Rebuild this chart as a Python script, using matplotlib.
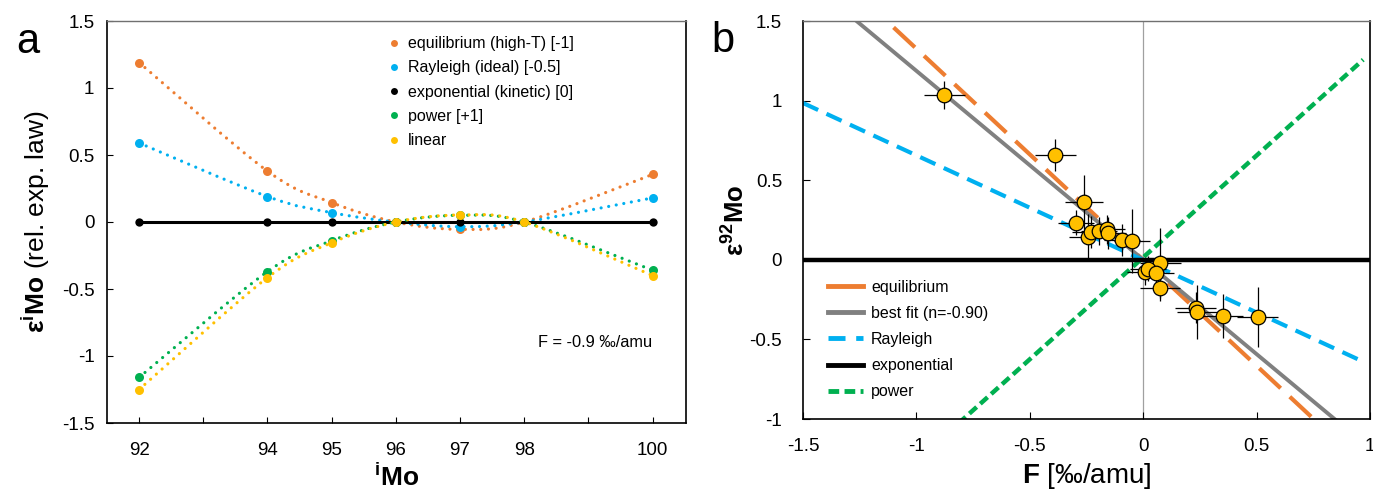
import numpy as np
import matplotlib
matplotlib.use("Agg")
import matplotlib.pyplot as plt
from matplotlib.path import Path
from matplotlib.patches import PathPatch
from matplotlib.lines import Line2D

plt.rcParams['font.family'] = ['Liberation Sans', 'DejaVu Sans']
plt.rcParams['mathtext.fontset'] = 'custom'
plt.rcParams['mathtext.rm'] = 'Liberation Sans'
plt.rcParams['mathtext.bf'] = 'Liberation Sans:bold'
plt.rcParams['mathtext.it'] = 'Liberation Sans:italic'

# ---------------- Panel a data ----------------
isotopes = [92, 94, 95, 96, 97, 98, 100]
eq_vals = [1.19, 0.38, 0.145, 0.0, -0.055, 0.0, 0.355]
ray_vals = [0.59, 0.19, 0.07, 0.0, -0.035, 0.0, 0.18]
exp_vals = [0.0, 0.0, 0.0, 0.0, 0.0, 0.0, 0.0]
pow_vals = [-1.16, -0.37, -0.14, 0.0, 0.05, 0.0, -0.36]
lin_vals = [-1.25, -0.415, -0.155, 0.0, 0.052, 0.0, -0.40]
law_labels_a = ["equilibrium (high-T) [-1]", "Rayleigh (ideal) [-0.5]",
                "exponential (kinetic) [0]", "power [+1]", "linear"]

# ---------------- Panel b data ----------------
F_vals = [-0.877, -0.387, -0.262, -0.295, -0.245, -0.232, -0.195, -0.160, -0.155,
          -0.095, -0.050, 0.075, 0.010, 0.020, 0.055, 0.074, 0.232, 0.238, 0.350, 0.505]
eps92_vals = [1.035, 0.660, 0.360, 0.233, 0.145, 0.172, 0.180, 0.192, 0.170,
              0.125, 0.118, -0.020, -0.078, -0.055, -0.082, -0.180, -0.300, -0.330, -0.352, -0.358]
F_err = [0.09, 0.09, 0.085, 0.08, 0.08, 0.08, 0.08, 0.08, 0.08,
         0.08, 0.08, 0.09, 0.08, 0.08, 0.08, 0.09, 0.09, 0.09, 0.09, 0.09]
eps_err = [0.085, 0.10, 0.17, 0.08, 0.14, 0.10, 0.09, 0.09, 0.10,
           0.10, 0.20, 0.22, 0.08, 0.08, 0.08, 0.08, 0.10, 0.17, 0.14, 0.19]

line_F = [-1.5, 0.97]
eq_line = [1.99, -1.29]
fit_line = [1.78, -1.15]
ray_line = [0.985, -0.64]
exp_line = [0.0, 0.0]
pow_line = [-1.905, 1.257]
line_labels_b = ["equilibrium", "best fit (n=-0.90)", "Rayleigh", "exponential", "power"]

ORANGE = '#ED7D31'
BLUE = '#00B0F0'
BLACK = '#000000'
GREEN = '#00B050'
GOLD = '#FFC000'
GRAY = '#808080'

W, H = 1373, 491
fig = plt.figure(figsize=(W / 100, H / 100), dpi=100)

def fx(px):
    return px / W

def fy(py):
    return 1 - py / H

axa = fig.add_axes([fx(107), fy(423), fx(686 - 107), (423 - 21) / H])
axb = fig.add_axes([fx(803), fy(419), fx(1370 - 803), (419 - 21) / H])


def smooth_path(xs, ys):
    pts = np.column_stack([xs, ys]).astype(float)
    n = len(pts)
    verts = [pts[0]]
    codes = [Path.MOVETO]
    for i in range(n - 1):
        p0 = pts[i - 1] if i > 0 else pts[i]
        p1 = pts[i]
        p2 = pts[i + 1]
        p3 = pts[i + 2] if i + 2 < n else pts[i + 1]
        c1 = p1 + (p2 - p0) / 6.0
        c2 = p2 - (p3 - p1) / 6.0
        verts += [c1, c2, p2]
        codes += [Path.CURVE4] * 3
    return Path(verts, codes)


series_a = [(eq_vals, ORANGE), (ray_vals, BLUE), (exp_vals, BLACK), (pow_vals, GREEN), (lin_vals, GOLD)]
for vals, col in series_a:
    if col == BLACK:
        axa.plot(isotopes, vals, color=col, lw=2.2, zorder=3)
    else:
        patch = PathPatch(smooth_path(isotopes, vals), fill=False, edgecolor=col,
                          lw=2.3, linestyle=(0, (0.01, 2.4)), zorder=3)
        patch.set_capstyle('round')
        axa.add_patch(patch)
for vals, col in series_a:
    axa.plot(isotopes, vals, 'o', color=col, ms=6.5 if col != BLACK else 6, mec='none', zorder=4)

axa.set_xlim(91.5, 100.52)
axa.set_ylim(-1.5, 1.5)
axa.set_xticks(range(92, 101))
axa.set_xticklabels([str(v) if v in isotopes else '' for v in range(92, 101)])
yt = [1.5, 1, 0.5, 0, -0.5, -1, -1.5]
axa.set_yticks(yt)
axa.set_yticklabels(['1.5', '1', '0.5', '0', '-0.5', '-1', '-1.5'])
axa.tick_params(direction='in', length=4, width=0.8, labelsize=13.5)
axa.tick_params(axis='x', pad=14)
axa.tick_params(axis='y', pad=9)
axa.set_xlabel(r'$\mathbf{^{i}Mo}$', fontsize=19, labelpad=3)
axa.set_ylabel(r'$\mathbf{ε^{i}Mo}$ (rel. exp. law)', fontsize=19, labelpad=7)

handles_a = [Line2D([], [], ls='none', marker='o', ms=5, color=c, mec='none') for _, c in series_a]
axa.legend(handles_a, law_labels_a, loc='upper left', bbox_to_anchor=(0.47, 0.982),
           frameon=False, fontsize=11.5, handlelength=0.8, handletextpad=0.5,
           labelspacing=0.58, borderpad=0)
axa.text(0.941, 0.2, 'F = -0.9 ‰/amu', transform=axa.transAxes, ha='right', va='center', fontsize=11.8)

for sp in ['left', 'bottom', 'right']:
    axa.spines[sp].set_color('black')
    axa.spines[sp].set_linewidth(1.2)
axa.spines['top'].set_color('#707070')
axa.spines['top'].set_linewidth(1.0)

fig.text(fx(28), fy(42), 'a', fontsize=30, ha='center', va='center')
fig.text(fx(723), fy(41), 'b', fontsize=30, ha='center', va='center')

# ---------------- Panel b ----------------
axb.axvline(0, color='#A0A0A0', lw=0.9, zorder=1)
axb.plot(line_F, eq_line, color=ORANGE, lw=3, dashes=(7, 3), zorder=2, label=line_labels_b[0])
axb.plot(line_F, fit_line, color=GRAY, lw=2.8, zorder=2, label=line_labels_b[1])
axb.plot(line_F, ray_line, color=BLUE, lw=3, dashes=(4, 2.2), zorder=2, label=line_labels_b[2])
axb.plot([-1.5, 1.0], exp_line, color=BLACK, lw=3.2, zorder=2.5, label=line_labels_b[3])
axb.plot(line_F, pow_line, color=GREEN, lw=3.2, dashes=(2.2, 1.1), zorder=2, label=line_labels_b[4])

axb.errorbar(F_vals, eps92_vals, xerr=F_err, yerr=eps_err, fmt='none', ecolor='black',
             elinewidth=0.9, capsize=0, zorder=3)
axb.plot(F_vals, eps92_vals, 'o', ms=10.5, mfc=GOLD, mec='black', mew=0.9, ls='none', zorder=4)

axb.set_xlim(-1.5, 1.0)
axb.set_ylim(-1.0, 1.5)
xt = [-1.5, -1, -0.5, 0, 0.5, 1]
axb.set_xticks(xt)
axb.set_xticklabels(['-1.5', '-1', '-0.5', '0', '0.5', '1'])
ytb = [1.5, 1, 0.5, 0, -0.5, -1]
axb.set_yticks(ytb)
axb.set_yticklabels(['1.5', '1', '0.5', '0', '-0.5', '-1'])
axb.tick_params(direction='in', length=5, width=0.8, labelsize=13.5)
axb.tick_params(axis='x', pad=14)
axb.tick_params(axis='y', pad=15)
axb.set_xlabel(r'$\mathbf{F}$ [‰/amu]', fontsize=20, labelpad=4)
axb.set_ylabel(r'$\mathbf{ε^{92}Mo}$', fontsize=18.5, labelpad=0)
for sp in ['left', 'bottom', 'right']:
    axb.spines[sp].set_color('black')
    axb.spines[sp].set_linewidth(1.2)
axb.spines['top'].set_color('#707070')
axb.spines['top'].set_linewidth(1.0)

hb = [Line2D([], [], color=ORANGE, lw=3.5),
      Line2D([], [], color=GRAY, lw=3.5),
      Line2D([], [], color=BLUE, lw=3.5, dashes=(3.5, 2.2)),
      Line2D([], [], color=BLACK, lw=3.5),
      Line2D([], [], color=GREEN, lw=3.5, dashes=(2.2, 1.1))]
axb.legend(hb, line_labels_b, loc='upper left', bbox_to_anchor=(0.03, 0.37), frameon=False,
           fontsize=11.5, handlelength=2.2, handletextpad=0.5, labelspacing=0.7, borderpad=0)

fig.savefig('out.png', dpi=100)
